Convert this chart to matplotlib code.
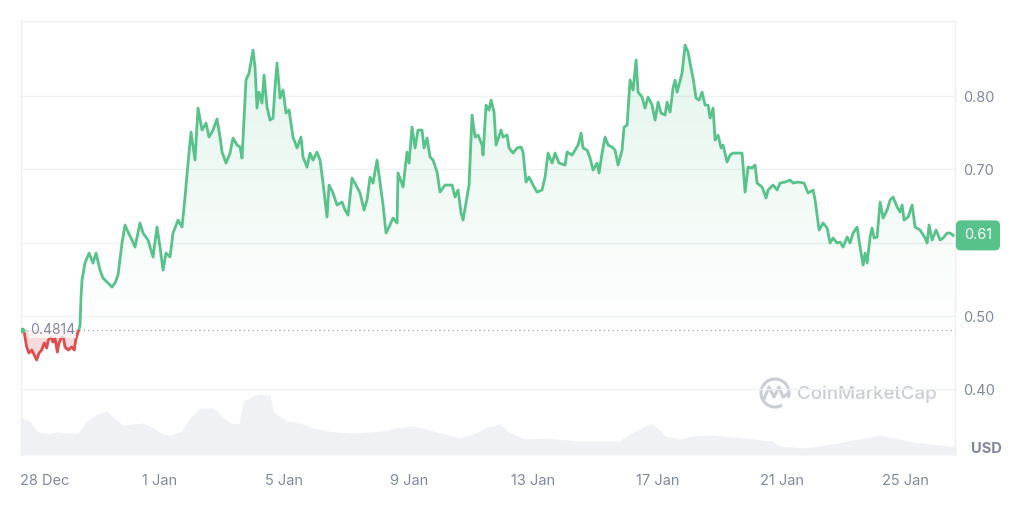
import numpy as np
import matplotlib
matplotlib.use("Agg")
import matplotlib.pyplot as plt
from matplotlib.patches import Rectangle, Polygon, Arc
from matplotlib.transforms import ScaledTranslation, blended_transform_factory

# ---------------- data (days since 1 Jan; negative = December) ----------------
price_days = [
    -4.431, -4.367, -4.290, -4.216, -4.129, -4.045, -3.968, -3.894, -3.807, -3.723,
    -3.646, -3.595, -3.508, -3.443, -3.379, -3.305, -3.250, -3.186, -3.112, -3.057,
    -2.951, -2.842, -2.758, -2.713, -2.648, -2.574, -2.542, -2.510, -2.414, -2.285,
    -2.156, -2.060, -1.931, -1.834, -1.706, -1.545, -1.448, -1.352, -1.223, -1.126,
    -1.030, -0.901, -0.805, -0.644, -0.547, -0.386, -0.225, -0.097, 0.000, 0.097,
    0.193, 0.322, 0.418, 0.483, 0.579, 0.708, 0.805, 0.901, 0.998, 1.126,
    1.223, 1.352, 1.480, 1.577, 1.706, 1.834, 1.931, 1.995, 2.124, 2.253,
    2.349, 2.478, 2.574, 2.639, 2.767, 2.864, 2.993, 3.057, 3.121, 3.186,
    3.282, 3.347, 3.443, 3.540, 3.636, 3.701, 3.765, 3.862, 3.958, 4.055,
    4.151, 4.280, 4.409, 4.537, 4.602, 4.730, 4.827, 4.924, 5.052, 5.149,
    5.245, 5.374, 5.438, 5.567, 5.696, 5.857, 5.953, 6.050, 6.179, 6.339,
    6.436, 6.565, 6.661, 6.758, 6.854, 6.983, 7.080, 7.176, 7.273, 7.369,
    7.498, 7.627, 7.659, 7.820, 7.948, 8.013, 8.109, 8.206, 8.302, 8.431,
    8.496, 8.592, 8.689, 8.785, 8.914, 9.010, 9.171, 9.397, 9.493, 9.590,
    9.686, 9.751, 9.879, 9.944, 10.040, 10.137, 10.233, 10.362, 10.394, 10.491,
    10.587, 10.652, 10.748, 10.812, 10.973, 11.038, 11.166, 11.231, 11.360, 11.488,
    11.617, 11.681, 11.778, 11.874, 12.003, 12.132, 12.293, 12.389, 12.486, 12.615,
    12.711, 12.840, 13.033, 13.097, 13.258, 13.355, 13.451, 13.548, 13.612, 13.741,
    13.837, 13.934, 14.063, 14.127, 14.224, 14.320, 14.417, 14.545, 14.642, 14.738,
    14.867, 14.932, 15.028, 15.125, 15.221, 15.318, 15.382, 15.511, 15.607, 15.704,
    15.833, 15.929, 16.026, 16.122, 16.251, 16.315, 16.412, 16.508, 16.573, 16.637,
    16.798, 16.895, 16.991, 17.055, 17.152, 17.248, 17.345, 17.442, 17.538, 17.635,
    17.699, 17.796, 17.860, 17.956, 18.053, 18.117, 18.246, 18.343, 18.439, 18.568,
    18.729, 18.825, 18.922, 19.051, 19.147, 19.212, 19.372, 19.501, 19.565, 19.727,
    19.855, 19.952, 20.113, 20.273, 20.370, 20.531, 20.724, 20.853, 21.014, 21.078,
    21.207, 21.336, 21.464, 21.561, 21.657, 21.786, 21.882, 21.979, 22.108, 22.204,
    22.301, 22.429, 22.526, 22.623, 22.687, 22.751, 22.848, 22.912, 22.977, 23.073,
    23.170, 23.266, 23.395, 23.491, 23.588, 23.717, 23.813, 23.878, 23.942, 24.071,
    24.199, 24.296, 24.457, 24.618, 24.682, 24.747, 24.843, 24.972, 25.100, 25.197,
    25.326, 25.422, 25.519,
]

price_usd = [
    0.4814, 0.4768, 0.4577, 0.4495, 0.4536, 0.4468, 0.4400, 0.4495, 0.4536, 0.4632,
    0.4564, 0.4673, 0.4714, 0.4645, 0.4700, 0.4509, 0.4632, 0.4700, 0.4714, 0.4577,
    0.4536, 0.4577, 0.4536, 0.4673, 0.4768, 0.4864, 0.5259, 0.5491, 0.5723, 0.5859,
    0.5723, 0.5859, 0.5627, 0.5518, 0.5464, 0.5396, 0.5450, 0.5559, 0.5996, 0.6241,
    0.6146, 0.6037, 0.5941, 0.6269, 0.6132, 0.6037, 0.5805, 0.6214, 0.5941, 0.5627,
    0.5859, 0.5805, 0.6132, 0.6200, 0.6309, 0.6214, 0.6623, 0.7087, 0.7510, 0.7128,
    0.7837, 0.7537, 0.7633, 0.7442, 0.7537, 0.7687, 0.7442, 0.7237, 0.7087, 0.7223,
    0.7428, 0.7332, 0.7305, 0.7155, 0.8219, 0.8315, 0.8628, 0.8396, 0.7837, 0.8055,
    0.7905, 0.8287, 0.7851, 0.7673, 0.7701, 0.8124, 0.8451, 0.7974, 0.8083, 0.7769,
    0.7810, 0.7442, 0.7292, 0.7442, 0.7169, 0.7032, 0.7223, 0.7128, 0.7237, 0.7128,
    0.6814, 0.6350, 0.6787, 0.6678, 0.6514, 0.6555, 0.6446, 0.6378, 0.6882, 0.6760,
    0.6678, 0.6446, 0.6582, 0.6896, 0.6814, 0.7128, 0.6814, 0.6514, 0.6132, 0.6214,
    0.6337, 0.6269, 0.6951, 0.6760, 0.7237, 0.7087, 0.7578, 0.7292, 0.7537, 0.7537,
    0.7292, 0.7428, 0.7169, 0.7128, 0.6964, 0.6691, 0.6787, 0.6787, 0.6623, 0.6719,
    0.6405, 0.6309, 0.6623, 0.6787, 0.7742, 0.7442, 0.7469, 0.7332, 0.7196, 0.7878,
    0.7810, 0.7946, 0.7783, 0.7332, 0.7537, 0.7442, 0.7469, 0.7292, 0.7223, 0.7292,
    0.7305, 0.7237, 0.6828, 0.6896, 0.6787, 0.6691, 0.6719, 0.6896, 0.7223, 0.7087,
    0.7223, 0.7087, 0.7060, 0.7237, 0.7196, 0.7264, 0.7332, 0.7496, 0.7292, 0.7264,
    0.7155, 0.6991, 0.7087, 0.6951, 0.7223, 0.7442, 0.7332, 0.7305, 0.7264, 0.7060,
    0.7264, 0.7578, 0.7605, 0.8219, 0.8083, 0.8492, 0.8055, 0.7987, 0.7837, 0.7987,
    0.7878, 0.7673, 0.7919, 0.7769, 0.7742, 0.7919, 0.7783, 0.8110, 0.8219, 0.8055,
    0.8315, 0.8696, 0.8601, 0.8451, 0.8246, 0.7974, 0.7946, 0.8055, 0.7878, 0.7878,
    0.7701, 0.7837, 0.7401, 0.7469, 0.7292, 0.7332, 0.7101, 0.7196, 0.7223, 0.7223,
    0.7223, 0.6691, 0.7032, 0.7019, 0.7060, 0.6814, 0.6760, 0.6610, 0.6719, 0.6787,
    0.6719, 0.6814, 0.6828, 0.6855, 0.6814, 0.6828, 0.6814, 0.6678, 0.6719, 0.6582,
    0.6173, 0.6269, 0.6200, 0.5996, 0.6064, 0.5996, 0.6009, 0.5941, 0.6078, 0.5996,
    0.6132, 0.6214, 0.5941, 0.5696, 0.5859, 0.5723, 0.6078, 0.6200, 0.6064, 0.6078,
    0.6555, 0.6337, 0.6446, 0.6582, 0.6623, 0.6487, 0.6419, 0.6514, 0.6309, 0.6350,
    0.6514, 0.6214, 0.6173, 0.6064, 0.5996, 0.6241, 0.6037, 0.6173, 0.6037, 0.6064,
    0.6132, 0.6132, 0.6100,
]

volume_days = [
    -4.451, -4.183, -3.958, -3.636, -3.315, -2.993, -2.639, -2.349, -2.027, -1.706,
    -1.448, -1.191, -0.869, -0.547, -0.225, 0.097, 0.322, 0.708, 0.965, 1.287,
    1.706, 1.931, 2.253, 2.542, 2.671, 2.993, 3.218, 3.540, 3.636, 4.087,
    4.505, 4.924, 5.374, 6.114, 6.661, 7.176, 7.723, 8.142, 8.592, 9.010,
    9.654, 10.072, 10.523, 10.941, 11.263, 11.746, 12.389, 13.483, 14.771, 15.190,
    15.607, 15.833, 16.058, 16.251, 16.702, 17.120, 17.764, 18.825, 19.694, 19.919,
    20.756, 21.625, 22.494, 23.138, 23.652, 24.199, 24.843, 25.580,
]
volume_rel = [
    37, 34, 24, 21, 23, 22, 22, 34, 41, 44,
    36, 30, 31, 32, 27, 21, 20, 24, 37, 47,
    47, 41, 32, 31, 54, 59, 61, 60, 44, 34,
    32, 27, 24, 22, 23, 24, 28, 29, 26, 22,
    17, 21, 28, 31, 22, 16, 17, 14, 14, 22,
    29, 31, 26, 19, 16, 19, 20, 17, 14, 9,
    7, 11, 16, 20, 17, 13, 11, 8,
]

x_tick_days = [-4, 0, 4, 8, 12, 16, 20, 24]
x_tick_labels = ["28 Dec", "1 Jan", "5 Jan", "9 Jan", "13 Jan", "17 Jan", "21 Jan", "25 Jan"]
y_ticks = [0.40, 0.50, 0.60, 0.70, 0.80]
y_tick_labels = ["0.40", "0.50", "", "0.70", "0.80"]   # 0.60 hidden behind the price tag
base_price = 0.4814
base_label = "0.4814"
last_label = "0.61"
currency = "USD"
watermark = "CoinMarketCap"

# ---------------- style ----------------
plt.rcParams['font.family'] = ['Inter', 'DejaVu Sans']
GREEN = '#57c38a'
RED = '#e04b4b'
GREY_TXT = '#808a9d'
GRID = '#eff1f4'
VOL = '#eff1f4'

W, H = 1024, 508
fig = plt.figure(figsize=(W / 100, H / 100), dpi=100)
fig.patch.set_facecolor('white')
L, R, T, B = 21, 955, 21, 455
rect = [L / W, 1 - B / H, (R - L) / W, (B - T) / H]
ax = fig.add_axes(rect)
ax_vol = ax.twinx()
ax.set_zorder(ax_vol.get_zorder() + 1)
ax.patch.set_visible(False)

px = np.array(price_days)
py = np.array(price_usd)

# volume
ax_vol.fill_between(volume_days, 0, volume_rel, color=VOL, lw=0)
ax_vol.set_ylim(0, 434)
ax_vol.set_yticks([])
for s in ax_vol.spines.values():
    s.set_visible(False)

# green gradient fill above baseline
top = py.max()
n = 256
grad = np.zeros((n, 1, 4))
rgb = matplotlib.colors.to_rgb(GREEN)
grad[:, 0, :3] = rgb
grad[:, 0, 3] = np.linspace(0.17, 0.0, n)
g = np.maximum(py, base_price)
verts_g = np.vstack([np.column_stack([px, g]), [[px[-1], base_price], [px[0], base_price]]])
poly_g = Polygon(verts_g, closed=True, facecolor='none', edgecolor='none', transform=ax.transData)
ax.add_patch(poly_g)
im = ax.imshow(grad, extent=[px[0], px[-1], base_price, top], aspect='auto',
               origin='upper', zorder=1, interpolation='bilinear')
im.set_clip_path(poly_g)

# red fill below baseline
r = np.minimum(py, base_price)
ax.fill_between(px, r, base_price, color=RED, alpha=0.2, lw=0, zorder=1)

# baseline dotted
ax.axhline(base_price, color='#a7aebb', lw=1.0, ls=(0, (1, 2.2)), zorder=2)

# price line (green above, red below)
gl, = ax.plot(px, py, color=GREEN, lw=2.0, zorder=3, solid_joinstyle='round')
gl.set_clip_path(Rectangle((px[0] - 5, base_price), 50, 1.0, transform=ax.transData))
rl, = ax.plot(px, py, color=RED, lw=2.0, zorder=3, solid_joinstyle='round')
rl.set_clip_path(Rectangle((px[0] - 5, base_price - 1.0), 50, 1.0, transform=ax.transData))
ax.plot(px[0], py[0], 'o', ms=3, color=GREEN, zorder=4)

# axes limits
ax.set_xlim(-4.473, 25.58)
ax.set_ylim(0.3104, 0.9025)

# grid / spines
ax.set_yticks(y_ticks)
ax.set_yticklabels(y_tick_labels)
ax.yaxis.tick_right()
ax.grid(axis='y', color=GRID, lw=1.0, zorder=0)
ax.set_axisbelow(True)
for side in ['left', 'top', 'right']:
    ax.spines[side].set_color('#eceef2')
    ax.spines[side].set_linewidth(1.0)
ax.spines['bottom'].set_visible(False)
ax.tick_params(axis='y', length=0, pad=6, labelsize=10.5, labelcolor=GREY_TXT)

ax.set_xticks(x_tick_days)
ax.set_xticklabels(x_tick_labels)
ax.tick_params(axis='x', length=0, pad=13.5, labelsize=10.5, labelcolor=GREY_TXT)
first = ax.get_xticklabels()[0]
first.set_transform(first.get_transform() + ScaledTranslation(9 / 100, 0, fig.dpi_scale_trans))

# baseline label
bt = blended_transform_factory(ax.transAxes, ax.transData)
ax.text(0.0096, base_price, base_label, transform=bt, ha='left', va='center',
        fontsize=10, color=GREY_TXT, zorder=5,
        bbox=dict(boxstyle='square,pad=0.1', fc='white', ec='none', alpha=0.75))

# last price tag
ax.text(1.0246, py[-1], last_label, transform=bt, ha='center', va='center',
        fontsize=10.5, color='white', zorder=6, clip_on=False,
        bbox=dict(boxstyle='round,pad=0.55,rounding_size=0.35', fc=GREEN, ec='none'))

# currency label
ax.text(1.034, 0.0138, currency, transform=ax.transAxes, ha='center', va='center',
        fontsize=10.5, fontweight='bold', color='#7f8799', clip_on=False)

# watermark
deco = fig.add_axes([0, 0, 1, 1])
deco.set_xlim(0, W)
deco.set_ylim(H, 0)
deco.axis('off')
deco.patch.set_visible(False)
deco.add_patch(Arc((775, 393), 28, 28, theta1=-300, theta2=20, color='#cacdd4', lw=2.2))
deco.plot([764, 769, 774, 779, 783, 789], [399, 387, 397, 387, 397, 393],
          color='#cacdd4', lw=2.2, solid_joinstyle='round', solid_capstyle='round')
deco.text(797, 394, watermark, ha='left', va='center', fontsize=13.5,
          fontweight='medium', color='#cacdd4')

fig.savefig('out.png', dpi=100, facecolor='white')
